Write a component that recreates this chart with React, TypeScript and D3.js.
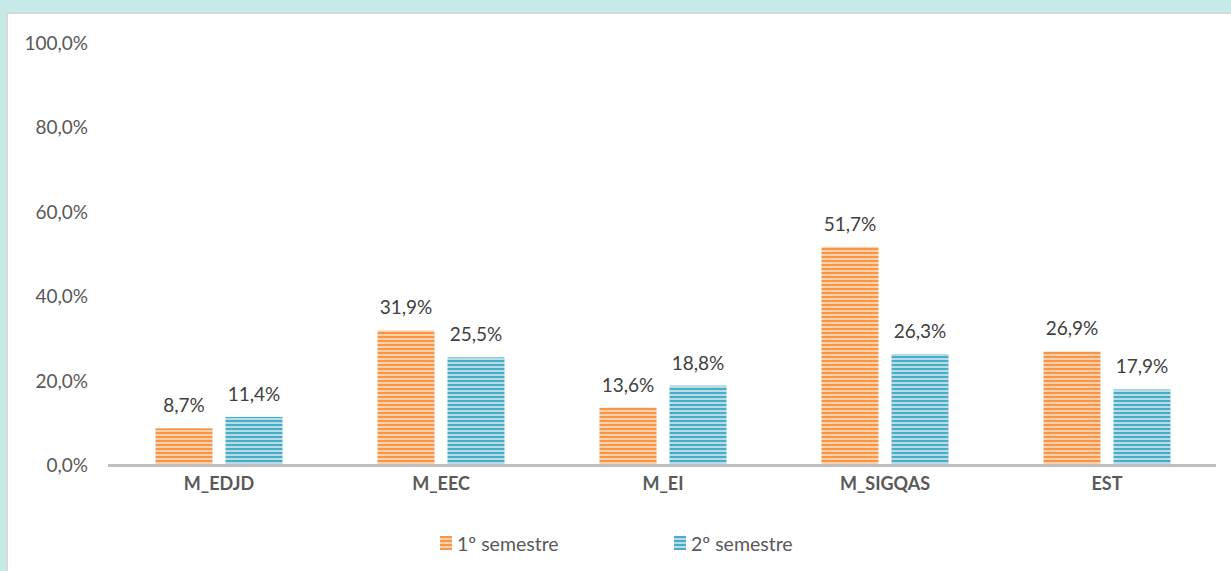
import * as React from 'react'
import { useEffect, useRef } from 'react'
import * as d3 from 'd3'

const categories = ['M_EDJD', 'M_EEC', 'M_EI', 'M_SIGQAS', 'EST']
const series = ['1º semestre', '2º semestre']
const sem1 = [8.7, 31.9, 13.6, 51.7, 26.9]
const sem2 = [11.4, 25.5, 18.8, 26.3, 17.9]
const yTicks = [0, 20, 40, 60, 80, 100]

const W = 1231
const H = 571
const dark = ['#f79646', '#4bacc6']
const light = ['#fcd0aa', '#b4dde8']

const fmt = (v: number) => v.toFixed(1).replace('.', ',') + '%'

const App = () => {
  const ref = useRef<SVGSVGElement | null>(null)

  useEffect(() => {
    document.body.style.margin = '0'
    const svg = d3.select(ref.current)
    svg.selectAll('*').remove()

    const defs = svg.append('defs')
    dark.forEach((c, i) => {
      const p = defs.append('pattern').attr('id', 'hatch' + i)
        .attr('patternUnits', 'userSpaceOnUse').attr('width', 8).attr('height', 4)
      p.append('rect').attr('width', 8).attr('height', 4).attr('fill', light[i])
      p.append('rect').attr('width', 8).attr('height', 2).attr('fill', c)
    })

    // background + panel
    svg.append('rect').attr('width', W).attr('height', H).attr('fill', '#c6eae8')
    svg.append('rect').attr('x', 7).attr('y', 13).attr('width', W).attr('height', H)
      .attr('fill', '#fff').attr('stroke', '#d9d9d9').attr('stroke-width', 2)

    const x = d3.scaleBand().domain(categories).range([108, 1218])
    const y = d3.scaleLinear().domain([0, 100]).range([465, 43])
    const inner = d3.scaleBand().domain(series).range([0, 127]).paddingInner(13 / 70)

    const g = svg.append('g').style('font-family', 'Lato, "Open Sans", sans-serif')

    // y tick labels
    g.selectAll('.yt').data(yTicks).enter().append('text')
      .attr('x', 88).attr('y', d => y(d) + 7)
      .attr('text-anchor', 'end').attr('font-size', 19).attr('fill', '#595959')
      .text(d => fmt(d))

    const groups = [sem1, sem2]
    groups.forEach((vals, si) => {
      const off = (x.bandwidth() - 127) / 2 + (inner(series[si]) as number)
      g.selectAll('.bar' + si).data(vals).enter().append('rect')
        .attr('x', (d, i) => (x(categories[i]) as number) + off)
        .attr('y', d => y(d))
        .attr('width', inner.bandwidth())
        .attr('height', d => y(0) - y(d))
        .attr('fill', `url(#hatch${si})`)
      g.selectAll('.lbl' + si).data(vals).enter().append('text')
        .attr('x', (d, i) => (x(categories[i]) as number) + off + inner.bandwidth() / 2)
        .attr('y', d => y(d) - 16)
        .attr('text-anchor', 'middle').attr('font-size', 19).attr('fill', '#404040')
        .text(d => fmt(d))
    })

    // axis line
    g.append('line').attr('x1', 108).attr('x2', 1216).attr('y1', 465.5).attr('y2', 465.5)
      .attr('stroke', '#bfbfbf').attr('stroke-width', 3)

    // category labels
    g.selectAll('.cat').data(categories).enter().append('text')
      .attr('x', d => (x(d) as number) + x.bandwidth() / 2)
      .attr('y', 490)
      .attr('text-anchor', 'middle').attr('font-size', 18).attr('font-weight', 'bold')
      .attr('fill', '#595959')
      .text(d => d)

    // legend
    const legX = [440, 674]
    series.forEach((s, i) => {
      g.append('rect').attr('x', legX[i]).attr('y', 536).attr('width', 12).attr('height', 14)
        .attr('fill', `url(#hatch${i})`)
      g.append('text').attr('x', legX[i] + 17).attr('y', 551)
        .attr('font-size', 19.5).attr('fill', '#595959').text(s)
    })
  }, [])

  return <svg ref={ref} width={W} height={H} style={{ display: 'block' }} />
}

export default App
